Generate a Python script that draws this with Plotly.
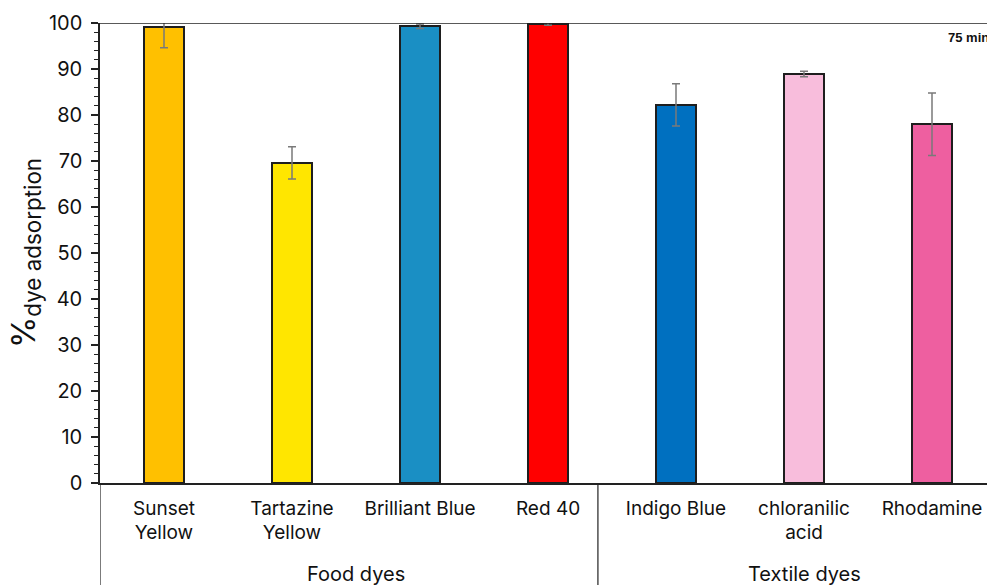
import plotly.graph_objects as go

# Dye adsorption after 75 min
dyes = ["Sunset<br>Yellow", "Tartazine<br>Yellow", "Brilliant Blue", "Red 40",
        "Indigo Blue", "chloranilic<br>acid", "Rhodamine"]
adsorption = [99.1, 69.6, 99.3, 99.8, 82.2, 88.9, 78.0]
adsorption_err = [4.5, 3.5, 0.5, 0.3, 4.6, 0.6, 6.8]
bar_colors = ["#FFC000", "#FFE600", "#1A8FC4", "#FF0000", "#0070C0", "#F8BDDC", "#EE5FA0"]
groups = ["Food dyes", "Textile dyes"]
group_sizes = [4, 3]
y_ticks = list(range(0, 101, 10))

FONT = "Inter"

fig = go.Figure()
fig.add_trace(go.Bar(
    x=list(range(len(dyes))),
    y=adsorption,
    width=0.31,
    marker=dict(color=bar_colors, line=dict(color="#1e1e1e", width=2)),
    error_y=dict(type="data", array=adsorption_err, color="#7a7a7a",
                 thickness=1.5, width=4),
    showlegend=False,
))

n = len(dyes)
step_px = 128.0
plot_px = 987 - 100
x_right = -0.5 + plot_px / step_px

fig.update_layout(
    width=987, height=585,
    margin=dict(l=100, r=0, t=23, b=102),
    paper_bgcolor="white", plot_bgcolor="white",
    bargap=0,
    xaxis=dict(
        range=[-0.5, x_right],
        tickmode="array", tickvals=list(range(n)), ticktext=dyes,
        showline=True, linecolor="#222", linewidth=1.5,
        ticks="", showgrid=False, zeroline=False,
        ticklabelstandoff=7,
        tickfont=dict(family=FONT, size=19, color="#111"),
    ),
    yaxis=dict(
        range=[0, 100],
        tickmode="array", tickvals=y_ticks,
        showline=True, linecolor="#222", linewidth=1.5,
        ticks="outside", ticklen=7, tickwidth=1.5, tickcolor="#222",
        minor=dict(dtick=2, ticks="outside", ticklen=4, tickwidth=1, tickcolor="#222"),
        showgrid=False, zeroline=False,
        ticklabelstandoff=5,
        tickfont=dict(family=FONT, size=20, color="#111"),
        title=dict(text="%<sub>dye adsorption</sub>",
                   font=dict(family=FONT, size=32, color="#111"),
                   standoff=4),
    ),
)

# top frame line
fig.add_shape(type="line", xref="paper", yref="y", x0=0, x1=1, y0=100, y1=100,
              line=dict(color="#222", width=1.5))

# group labels and dividers below the category axis
start = 0
bounds = [-0.5]
for g, size in zip(groups, group_sizes):
    end = start + size
    bounds.append(end - 0.61)
    fig.add_annotation(x=(start + end - 1) / 2, xref="x", y=-0.197, yref="paper",
                       text=g, showarrow=False, yanchor="middle",
                       font=dict(family=FONT, size=20, color="#111"))
    start = end
for b in bounds[:-1]:
    fig.add_shape(type="line", xref="x", yref="paper", x0=b, x1=b, y0=0, y1=-0.3,
                  line=dict(color="#222", width=1.2))

fig.add_annotation(x=(946 - 100) / plot_px, xref="paper",
                   y=1 - (37 - 23) / 460.0, yref="paper",
                   text="<b>75 min</b>", showarrow=False,
                   xanchor="left", yanchor="middle",
                   font=dict(family="Liberation Sans", size=13, color="#111"))

fig.write_html("out.html")
